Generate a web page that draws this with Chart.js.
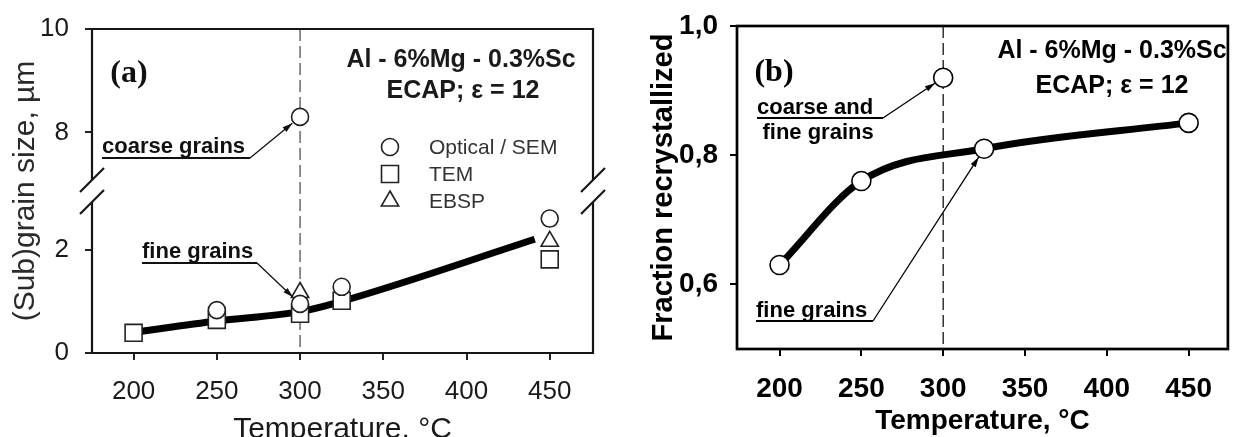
<!DOCTYPE html>
<html>
<head>
<meta charset="utf-8">
<script src="https://cdn.jsdelivr.net/npm/chart.js@4.4.1/dist/chart.umd.min.js"></script>
<style>
  html, body { margin: 0; padding: 0; background: #fff; overflow: hidden; }
  #wrap { position: relative; width: 1239px; height: 437px; }
  #chartA { position: absolute; left: 0; top: 0; }
  #chartB { position: absolute; left: 620px; top: 0; }
</style>
</head>
<body>
<div id="wrap">
  <canvas id="chartA" width="620" height="437"></canvas>
  <canvas id="chartB" width="619" height="437"></canvas>
</div>
<script>
'use strict';

// ---- data, panel (a): (sub)grain size, um ----
const semTemps = [250, 300, 300, 325, 450];
const semSize = [0.83, 0.95, 8.3, 1.28, 2.6];
const temTemps = [200, 250, 300, 325, 450];
const temSize = [0.39, 0.64, 0.76, 1.01, 1.81];
const ebspTemps = [300, 450];
const ebspSize = [1.17, 2.16];
const fitTemps = [200, 250, 300, 325, 441];
const fitSize = [0.4, 0.62, 0.8, 1.0, 2.2];

// ---- data, panel (b): fraction recrystallized ----
const fracTemps = [200, 250, 300, 325, 450];
const fracValues = [0.63, 0.76, 0.92, 0.81, 0.85];
const curveTemps = [200, 250, 325, 450];
const curveValues = [0.63, 0.76, 0.81, 0.85];

// ---- tick labels ----
const tempTicks = [200, 250, 300, 350, 400, 450];
const sizeTicks = [0, 2, 8, 10];
const fracTicks = [0.6, 0.8, 1.0];

// broken y axis in (a): values above the break are shifted down by GAP
const GAP = 3.734;
const BREAK_LO = 2.92;   // top of lower segment
const BREAK_HI = 7.08;   // bottom of upper segment
const brk = v => (v > 5 ? v - GAP : v);
const unbrk = t => (t > 3.1 ? t + GAP : t);

const pts = (xs, ys, f) => xs.map((x, i) => ({x: x, y: f ? f(ys[i]) : ys[i]}));

Chart.defaults.font.family = "'Liberation Sans', Arial, sans-serif";
Chart.defaults.animation = false;

function text(ctx, s, x, y, font, color, align) {
  ctx.font = font;
  ctx.fillStyle = color;
  ctx.textAlign = align || 'left';
  ctx.textBaseline = 'middle';
  ctx.fillText(s, x, y);
}

function arrow(ctx, x0, y0, x1, y1, color) {
  ctx.strokeStyle = color;
  ctx.fillStyle = color;
  ctx.lineWidth = 1.3;
  ctx.beginPath();
  ctx.moveTo(x0, y0);
  ctx.lineTo(x1, y1);
  ctx.stroke();
  const a = Math.atan2(y1 - y0, x1 - x0);
  ctx.beginPath();
  ctx.moveTo(x1, y1);
  ctx.lineTo(x1 - 10 * Math.cos(a) + 3 * Math.sin(a), y1 - 10 * Math.sin(a) - 3 * Math.cos(a));
  ctx.lineTo(x1 - 10 * Math.cos(a) - 3 * Math.sin(a), y1 - 10 * Math.sin(a) + 3 * Math.cos(a));
  ctx.closePath();
  ctx.fill();
}

// arrow tip stops short of the marker it points at
function tipTo(chart, tx, ty, sx, sy, r) {
  const px = chart.scales.x.getPixelForValue(tx);
  const py = chart.scales.y.getPixelForValue(ty);
  const d = Math.hypot(px - sx, py - sy);
  return [px - (px - sx) / d * r, py - (py - sy) / d * r];
}

function symbol(ctx, style, x, y, r) {
  ctx.beginPath();
  if (style === 'circle') {
    ctx.arc(x, y, r, 0, Math.PI * 2);
  } else if (style === 'rect') {
    const s = Math.SQRT1_2 * r;
    ctx.rect(x - s, y - s, 2 * s, 2 * s);
  } else {
    for (let k = 0; k < 3; k++) {
      const a = k * 2 * Math.PI / 3;
      const fn = k ? 'lineTo' : 'moveTo';
      ctx[fn](x + Math.sin(a) * r, y - Math.cos(a) * r);
    }
    ctx.closePath();
  }
  ctx.fill();
  ctx.stroke();
}

function dashedAt300(chart, color) {
  const {ctx, chartArea: {top, bottom}, scales: {x}} = chart;
  const px = x.getPixelForValue(300);
  ctx.save();
  ctx.strokeStyle = color;
  ctx.lineWidth = 1.2;
  ctx.setLineDash([12, 5]);
  ctx.beginPath();
  ctx.moveTo(px, top);
  ctx.lineTo(px, bottom);
  ctx.stroke();
  ctx.restore();
}

// ---------- panel (a) ----------
const plotA = {
  id: 'plotA',
  beforeDatasetsDraw(chart) { dashedAt300(chart, '#444'); },
  afterDatasetsDraw(chart) {
    const {ctx, chartArea: {left, right, top, bottom}, scales: {y}} = chart;
    const yLo = y.getPixelForValue(BREAK_LO);
    const yHi = y.getPixelForValue(brk(BREAK_HI));
    ctx.save();
    ctx.strokeStyle = '#151515';
    ctx.lineWidth = 2.2;
    ctx.beginPath();
    ctx.moveTo(left, yHi); ctx.lineTo(left, top); ctx.lineTo(right, top); ctx.lineTo(right, yHi);
    ctx.moveTo(left, yLo); ctx.lineTo(left, bottom); ctx.lineTo(right, bottom); ctx.lineTo(right, yLo);
    ctx.stroke();
    [left, right].forEach(xx => [yHi, yLo].forEach(yy => {
      ctx.beginPath();
      ctx.moveTo(xx - 12, yy + 12);
      ctx.lineTo(xx + 12, yy - 12);
      ctx.stroke();
    }));

    text(ctx, '(a)', left + 37, top + 45, 'bold 32px "Liberation Serif", "Times New Roman", serif', '#111', 'center');
    text(ctx, 'Al - 6%Mg - 0.3%Sc', left + 369, top + 31, 'bold 25px "Liberation Sans", Arial, sans-serif', '#1a1a1a', 'center');
    text(ctx, 'ECAP; \u03b5 = 12', left + 371, top + 62, 'bold 25px "Liberation Sans", Arial, sans-serif', '#1a1a1a', 'center');

    // legend
    const leg = [['circle', 'Optical / SEM', 8.5], ['rect', 'TEM', 12], ['triangle', 'EBSP', 10]];
    leg.forEach((l, i) => {
      ctx.fillStyle = '#fff';
      ctx.strokeStyle = '#222';
      ctx.lineWidth = 1.6;
      symbol(ctx, l[0], left + 298, top + 118 + i * 27, l[2]);
      text(ctx, l[1], left + 337, top + 119 + i * 27, '21px "Liberation Sans", Arial, sans-serif', '#333');
    });

    // callouts
    const notes = [
      {s: 'coarse grains', dx: 10, dy: 118, under: 148, target: [300, brk(8.3)]},
      {s: 'fine grains', dx: 50, dy: 223, under: 115, target: [300, 0.95]}
    ];
    notes.forEach(n => {
      const x0 = left + n.dx, yU = top + n.dy + 11;
      text(ctx, n.s, x0, top + n.dy, 'bold 22px "Liberation Sans", Arial, sans-serif', '#111');
      ctx.strokeStyle = '#111';
      ctx.lineWidth = 2;
      ctx.beginPath();
      ctx.moveTo(x0, yU);
      ctx.lineTo(x0 + n.under, yU);
      ctx.stroke();
      const t = tipTo(chart, n.target[0], n.target[1], x0 + n.under, yU, 10);
      arrow(ctx, x0 + n.under, yU, t[0], t[1], '#111');
    });
    ctx.restore();
  }
};

new Chart(document.getElementById('chartA'), {
  type: 'scatter',
  data: {
    datasets: [
      {
        label: 'fit', data: pts(fitTemps, fitSize, brk), showLine: true,
        borderColor: '#000', borderWidth: 7, pointRadius: 0,
        cubicInterpolationMode: 'monotone', fill: false, order: 5
      },
      {
        label: 'TEM', data: pts(temTemps, temSize, brk), pointStyle: 'rect', pointRadius: 12,
        pointBackgroundColor: '#fff', pointBorderColor: '#222', pointBorderWidth: 1.6, order: 3
      },
      {
        label: 'EBSP', data: pts(ebspTemps, ebspSize, brk), pointStyle: 'triangle', pointRadius: 10,
        pointBackgroundColor: '#fff', pointBorderColor: '#222', pointBorderWidth: 1.6, order: 2
      },
      {
        label: 'Optical / SEM', data: pts(semTemps, semSize, brk), pointStyle: 'circle', pointRadius: 8.5,
        pointBackgroundColor: '#fff', pointBorderColor: '#222', pointBorderWidth: 1.6, order: 1
      }
    ]
  },
  options: {
    responsive: false,
    events: [],
    layout: {padding: {left: 0, top: 25, right: 27, bottom: 0}},
    plugins: {legend: {display: false}, tooltip: {enabled: false}},
    scales: {
      x: {
        type: 'linear', min: 175, max: 476,
        afterBuildTicks: s => { s.ticks = tempTicks.map(v => ({value: v})); },
        afterFit: s => { s.height = 84; },
        grid: {drawOnChartArea: false, drawTicks: true, tickLength: 7, color: '#222', lineWidth: 2},
        border: {display: false},
        ticks: {padding: 19, color: '#1a1a1a', maxRotation: 0, font: {size: 26, lineHeight: 1}},
        title: {
          display: true, text: 'Temperature, \u00b0C', color: '#1a1a1a',
          font: {size: 30, lineHeight: 0.7}, padding: {top: 0, bottom: -3}
        }
      },
      y: {
        type: 'linear', min: 0, max: brk(10),
        afterBuildTicks: s => { s.ticks = sizeTicks.map(v => ({value: brk(v)})); },
        afterFit: s => { s.width = 92; },
        grid: {drawOnChartArea: false, drawTicks: true, tickLength: 7, color: '#222', lineWidth: 2},
        border: {display: false},
        ticks: {
          padding: 16, color: '#1a1a1a', font: {size: 26, lineHeight: 1},
          callback: v => String(Math.round(unbrk(v)))
        },
        title: {
          display: true, text: '(Sub)grain size, \u00b5m', color: '#2a2a2a',
          font: {size: 30, lineHeight: 1}, padding: {top: 10.5, bottom: 0}
        }
      }
    }
  },
  plugins: [plotA]
});

// ---------- panel (b) ----------
const plotB = {
  id: 'plotB',
  beforeDatasetsDraw(chart) { dashedAt300(chart, '#000'); },
  afterDatasetsDraw(chart) {
    const {ctx, chartArea: {left, right, top, bottom}} = chart;
    ctx.save();
    ctx.strokeStyle = '#000';
    ctx.lineWidth = 2.7;
    ctx.strokeRect(left, top, right - left, bottom - top);

    text(ctx, '(b)', left + 37, top + 47, 'bold 32px "Liberation Serif", "Times New Roman", serif', '#000', 'center');
    text(ctx, 'Al - 6%Mg - 0.3%Sc', left + 375, top + 25, 'bold 25px "Liberation Sans", Arial, sans-serif', '#000', 'center');
    text(ctx, 'ECAP; \u03b5 = 12', left + 375, top + 60, 'bold 25px "Liberation Sans", Arial, sans-serif', '#000', 'center');

    const f = 'bold 22px "Liberation Sans", Arial, sans-serif';
    // coarse and fine grains
    let x0 = left + 20, yT = top + 82, yU = yT + 10;
    text(ctx, 'coarse and', x0, yT, f, '#000');
    ctx.font = f;
    const w = ctx.measureText('coarse and').width;
    text(ctx, 'fine grains', x0 + w / 2 + 3, yT + 25, f, '#000', 'center');
    ctx.strokeStyle = '#000';
    ctx.lineWidth = 2;
    ctx.beginPath(); ctx.moveTo(x0, yU); ctx.lineTo(x0 + 126, yU); ctx.stroke();
    let t = tipTo(chart, 300, 0.92, x0 + 126, yU, 10);
    arrow(ctx, x0 + 126, yU, t[0], t[1], '#000');

    // fine grains
    x0 = left + 19; yT = top + 285; yU = yT + 10;
    text(ctx, 'fine grains', x0, yT, f, '#000');
    ctx.strokeStyle = '#000';
    ctx.lineWidth = 2;
    ctx.beginPath(); ctx.moveTo(x0, yU); ctx.lineTo(x0 + 117, yU); ctx.stroke();
    t = tipTo(chart, 325, 0.81, x0 + 117, yU, 10);
    arrow(ctx, x0 + 117, yU, t[0], t[1], '#000');
    ctx.restore();
  }
};

new Chart(document.getElementById('chartB'), {
  type: 'scatter',
  data: {
    datasets: [
      {
        label: 'curve', data: pts(curveTemps, curveValues), showLine: true,
        borderColor: '#000', borderWidth: 7, pointRadius: 0,
        cubicInterpolationMode: 'monotone', fill: false, order: 5
      },
      {
        label: 'Fraction recrystallized', data: pts(fracTemps, fracValues), pointStyle: 'circle', pointRadius: 9.5,
        pointBackgroundColor: '#fff', pointBorderColor: '#000', pointBorderWidth: 1.6, order: 1
      }
    ]
  },
  options: {
    responsive: false,
    events: [],
    layout: {padding: {left: 0, top: 20, right: 4, bottom: 0}},
    plugins: {legend: {display: false}, tooltip: {enabled: false}},
    scales: {
      x: {
        type: 'linear', min: 174, max: 474,
        afterBuildTicks: s => { s.ticks = tempTicks.map(v => ({value: v})); },
        afterFit: s => { s.height = 88; },
        grid: {drawOnChartArea: false, drawTicks: true, tickLength: 7, color: '#000', lineWidth: 2},
        border: {display: false},
        ticks: {padding: 19, color: '#000', maxRotation: 0, font: {size: 28, weight: 'bold', lineHeight: 1}},
        title: {
          display: true, text: 'Temperature, \u00b0C', color: '#000',
          font: {size: 28, weight: 'bold', lineHeight: 1}, padding: {top: 0, bottom: 2}
        }
      },
      y: {
        type: 'linear', min: 0.5, max: 1.0,
        afterBuildTicks: s => { s.ticks = fracTicks.map(v => ({value: v})); },
        afterFit: s => { s.width = 117; },
        grid: {drawOnChartArea: false, drawTicks: true, tickLength: 7, color: '#000', lineWidth: 2},
        border: {display: false},
        ticks: {
          padding: 12, color: '#000', font: {size: 28, weight: 'bold', lineHeight: 1},
          callback: v => v.toFixed(1).replace('.', ',')
        },
        title: {
          display: true, text: 'Fraction recrystallized', color: '#000',
          font: {size: 29, weight: 'bold', lineHeight: 1}, padding: {top: 29, bottom: 0}
        }
      }
    }
  },
  plugins: [plotB]
});
</script>
</body>
</html>
